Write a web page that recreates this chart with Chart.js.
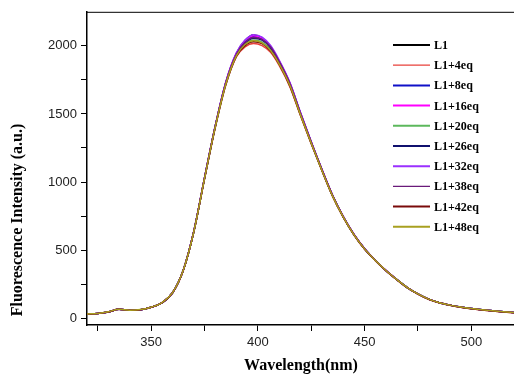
<!DOCTYPE html>
<html>
<head>
<meta charset="utf-8">
<script src="https://cdn.jsdelivr.net/npm/chart.js@4"></script>
<style>
    html, body { margin: 0; padding: 0; background: #fff; }
    #wrap { width: 514px; height: 383px; position: relative; }
</style>
</head>
<body>
<div id="wrap"><canvas id="chart"></canvas></div>
<script>
// Wavelengths (nm), shared by all spectra
const wavelengths = [320, 325, 330, 335, 340, 345, 350, 355, 360, 365, 370, 375, 380, 385,
    390, 394, 398, 402, 406, 410, 415, 420, 425, 430, 435, 440, 445, 450, 455, 460, 465,
    470, 475, 480, 485, 490, 495, 500, 505, 510, 515, 520];

// Fluorescence intensity (a.u.)
const sL1    = [30, 35, 46, 65, 58, 62, 80, 112, 185, 348, 635, 1025, 1405, 1730, 1945, 2040, 2080, 2058, 1990, 1882, 1720, 1500, 1290, 1090, 900, 745, 615, 510, 425, 350, 285, 225, 178, 140, 114, 96, 82, 71, 62, 54, 47, 41];
const sEq4   = [30, 35, 46, 65, 58, 62, 80, 112, 185, 347, 633, 1021, 1397, 1715, 1920, 1992, 2018, 2002, 1952, 1856, 1700, 1488, 1282, 1084, 896, 742, 613, 508, 424, 349, 284, 224, 177, 139, 113, 95, 81, 70, 61, 53, 46, 40];
const sEq8   = [30, 35, 46, 65, 58, 62, 80, 112, 185, 348, 635, 1025, 1403, 1728, 1942, 2032, 2070, 2052, 1993, 1886, 1726, 1506, 1294, 1092, 902, 746, 616, 511, 426, 350, 285, 225, 178, 140, 114, 96, 82, 71, 62, 54, 47, 41];
const sEq16  = [30, 35, 46, 65, 58, 62, 80, 112, 186, 349, 637, 1027, 1407, 1732, 1946, 2036, 2075, 2056, 1997, 1890, 1728, 1508, 1296, 1094, 903, 747, 617, 511, 426, 351, 285, 225, 178, 140, 114, 96, 82, 71, 62, 54, 47, 41];
const sEq20  = [30, 35, 46, 65, 58, 62, 80, 112, 185, 348, 634, 1023, 1401, 1722, 1930, 2008, 2042, 2028, 1972, 1870, 1712, 1495, 1287, 1088, 899, 744, 614, 509, 425, 350, 284, 224, 178, 140, 114, 96, 82, 71, 62, 54, 47, 41];
const sEq26  = [30, 35, 46, 65, 58, 62, 80, 112, 185, 348, 635, 1025, 1404, 1726, 1936, 2020, 2056, 2042, 1986, 1880, 1720, 1502, 1292, 1091, 901, 746, 615, 510, 425, 350, 285, 225, 178, 140, 114, 96, 82, 71, 62, 54, 47, 41];
const sEq32  = [30, 35, 46, 65, 58, 62, 80, 112, 186, 349, 637, 1028, 1408, 1735, 1950, 2042, 2082, 2064, 2002, 1896, 1732, 1510, 1298, 1095, 904, 748, 617, 512, 426, 351, 286, 225, 178, 140, 114, 96, 82, 71, 62, 54, 47, 41];
const sEq38  = [30, 35, 46, 65, 58, 62, 80, 112, 185, 348, 635, 1025, 1405, 1728, 1940, 2026, 2062, 2048, 1991, 1885, 1724, 1504, 1293, 1092, 902, 746, 616, 510, 425, 350, 285, 225, 178, 140, 114, 96, 82, 71, 62, 54, 47, 41];
const sEq42  = [30, 35, 46, 65, 58, 62, 80, 112, 185, 347, 632, 1020, 1395, 1712, 1925, 2002, 2030, 2016, 1962, 1865, 1706, 1490, 1284, 1086, 897, 743, 613, 508, 424, 349, 284, 224, 177, 139, 113, 95, 81, 70, 61, 53, 46, 40];
const sEq48  = [31, 35, 47, 66, 59, 63, 81, 113, 186, 348, 633, 1022, 1399, 1718, 1928, 2010, 2038, 2022, 1966, 1868, 1710, 1493, 1286, 1087, 898, 744, 614, 509, 425, 350, 285, 225, 178, 140, 114, 96, 82, 71, 62, 54, 47, 41];

const seriesNames  = ['L1', 'L1+4eq', 'L1+8eq', 'L1+16eq', 'L1+20eq', 'L1+26eq', 'L1+32eq', 'L1+38eq', 'L1+42eq', 'L1+48eq'];
const seriesValues = [sL1, sEq4, sEq8, sEq16, sEq20, sEq26, sEq32, sEq38, sEq42, sEq48];
const seriesColors = ['#000000', '#e8403a', '#1010c8', '#ff00ff', '#5cb85c', '#10106e', '#9a30ff', '#6a1a7a', '#7a0a0a', '#a8a020'];

// Axis ticks (major ones get labels)
const xTickValues = [325, 350, 375, 400, 425, 450, 475, 500];
const yTickValues = [0, 250, 500, 750, 1000, 1250, 1500, 1750, 2000];

const tickFont = { family: "'Liberation Sans', Arial, sans-serif", size: 13 };
const titleFont = "bold 16px 'Liberation Serif', 'Times New Roman', serif";

// frame, axis titles and legend drawn on top of the chart
const decorations = {
    id: 'decorations',
    afterDraw(chart) {
        const { ctx, chartArea } = chart;
        ctx.save();
        ctx.strokeStyle = '#000';
        ctx.lineWidth = 1;
        ctx.beginPath();
        ctx.moveTo(chartArea.left, chartArea.top + 0.5);
        ctx.lineTo(chartArea.right, chartArea.top + 0.5);
        ctx.stroke();

        ctx.fillStyle = '#000';
        ctx.font = titleFont;
        ctx.textAlign = 'center';
        ctx.textBaseline = 'middle';
        ctx.fillText('Wavelength(nm)', 301, 366);

        ctx.translate(18, 220);
        ctx.rotate(-Math.PI / 2);
        ctx.fillText('Fluorescence Intensity (a.u.)', 0, 0);
        ctx.restore();

        // legend
        ctx.save();
        ctx.font = "bold 12px 'Liberation Serif', 'Times New Roman', serif";
        ctx.textAlign = 'left';
        ctx.textBaseline = 'middle';
        chart.data.datasets.forEach((ds, i) => {
            const y = 45 + i * 20.2;
            ctx.strokeStyle = ds.borderColor;
            ctx.lineWidth = (i === 1 || i === 7) ? 1.2 : 2;
            ctx.beginPath();
            ctx.moveTo(393, y);
            ctx.lineTo(430, y);
            ctx.stroke();
            ctx.fillStyle = '#000';
            ctx.fillText(ds.label, 434, y + 1);
        });
        ctx.restore();
    }
};

const datasets = seriesNames.map((name, i) => ({
    label: name,
    data: wavelengths.map((w, j) => ({ x: w, y: seriesValues[i][j] })),
    borderColor: seriesColors[i],
    borderWidth: 1.5,
    pointRadius: 0,
    cubicInterpolationMode: 'monotone',
    order: seriesNames.length - i
}));

new Chart(document.getElementById('chart'), {
    type: 'line',
    data: { datasets },
    options: {
        responsive: true,
        maintainAspectRatio: false,
        animation: false,
        layout: { padding: { top: 7, right: 0, left: 0, bottom: 0 } },
        plugins: {
            legend: { display: false },
            tooltip: { enabled: false }
        },
        scales: {
            x: {
                type: 'linear',
                min: 320,
                max: 520,
                afterBuildTicks: (scale) => { scale.ticks = xTickValues.map(v => ({ value: v })); },
                afterFit: (scale) => { scale.height = 58; },
                border: { color: '#000', width: 1.5 },
                grid: { drawOnChartArea: false, tickLength: 6, tickColor: '#000', tickWidth: 1 },
                ticks: {
                    color: '#222',
                    font: tickFont,
                    padding: 4,
                    maxRotation: 0,
                    autoSkip: false,
                    callback: (v) => (v % 50 === 0 ? String(v) : '')
                }
            },
            y: {
                min: -50,
                max: 2250,
                afterBuildTicks: (scale) => { scale.ticks = yTickValues.map(v => ({ value: v })); },
                afterFit: (scale) => { scale.width = 87; },
                border: { color: '#000', width: 1.5 },
                grid: { drawOnChartArea: false, tickLength: 6, tickColor: '#000', tickWidth: 1 },
                ticks: {
                    color: '#222',
                    font: tickFont,
                    padding: 4,
                    autoSkip: false,
                    callback: (v) => (v % 500 === 0 ? String(v) : '')
                }
            }
        }
    },
    plugins: [decorations]
});
</script>
</body>
</html>
